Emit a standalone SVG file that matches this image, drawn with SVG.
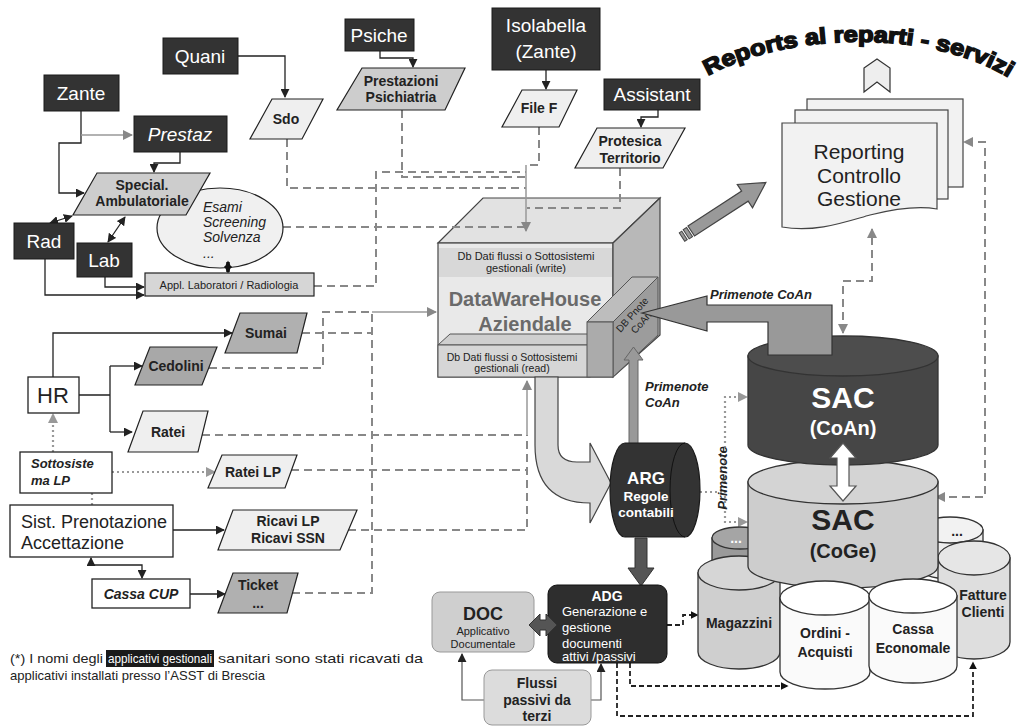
<svg xmlns="http://www.w3.org/2000/svg" width="1024" height="727" viewBox="0 0 1024 727">
<defs>
<marker id="ab" viewBox="0 0 10 10" refX="9" refY="5" markerWidth="9" markerHeight="9" markerUnits="userSpaceOnUse" orient="auto-start-reverse"><path d="M0,0 L10,5 L0,10 Z" fill="#222"/></marker>
<marker id="ag" viewBox="0 0 10 10" refX="9" refY="5" markerWidth="10" markerHeight="10" markerUnits="userSpaceOnUse" orient="auto-start-reverse"><path d="M0,0 L10,5 L0,10 Z" fill="#888"/></marker>
<marker id="ab2" viewBox="0 0 10 10" refX="8" refY="5" markerWidth="8" markerHeight="8" markerUnits="userSpaceOnUse" orient="auto-start-reverse"><path d="M0,0 L10,5 L0,10 Z" fill="#111"/></marker>
<marker id="ag2" viewBox="0 0 10 10" refX="8" refY="5" markerWidth="10" markerHeight="10" markerUnits="userSpaceOnUse" orient="auto-start-reverse"><path d="M0,0 L10,5 L0,10 Z" fill="#999"/></marker>
<path id="arc" d="M708,76 C790,30 940,28 1018,84"/>
</defs>
<style>
.dk{fill:#333;stroke:#1a1a1a;stroke-width:1}
.dt{font-family:"Liberation Sans",Arial,sans-serif;font-size:19px;fill:#fff;text-anchor:middle}
.pg{stroke:#222;stroke-width:1.2}
.pl{fill:#efefef}.pm{fill:#cdcdcd}.pd{fill:#b0b0b0}
.bt{font-family:"Liberation Sans",Arial,sans-serif;font-weight:bold;font-size:14px;fill:#222;text-anchor:middle}
.t{font-family:"Liberation Sans",Arial,sans-serif;fill:#222}
.wb{fill:#fff;stroke:#222;stroke-width:1.3}
.cn{fill:none;stroke:#222;stroke-width:1.3}
.cg{fill:none;stroke:#999;stroke-width:1.5}
.ds{fill:none;stroke:#888;stroke-width:2;stroke-dasharray:8 5}
.dot{fill:none;stroke:#999;stroke-width:2.2;stroke-dasharray:2 3}
.kd{fill:none;stroke:#222;stroke-width:1.8;stroke-dasharray:5 3}
.cy{stroke:#333;stroke-width:1.3}
</style>

<g id="dwh">
<polygon points="438,243 483,198 660,198 613,243" fill="#e2e2e2" stroke="#444" stroke-width="1.2"/>
<rect x="438" y="243" width="175" height="134" fill="#e9e9e9" stroke="#444" stroke-width="1.2"/>
<polygon points="613,243 660,198 660,335 613,377" fill="#b8b8b8" stroke="#444" stroke-width="1.2"/>
<rect x="439" y="248" width="173" height="29" fill="#d8d8d8"/>
<text class="t" x="526" y="260" font-size="11" text-anchor="middle">Db Dati flussi o Sottosistemi</text>
<text class="t" x="526" y="272" font-size="11" text-anchor="middle">gestionali  (write)</text>
<text x="525" y="306" font-family="Liberation Sans,Arial,sans-serif" font-weight="bold" font-size="20" fill="#6a6a6a" text-anchor="middle">DataWareHouse</text>
<text x="525" y="331" font-family="Liberation Sans,Arial,sans-serif" font-weight="bold" font-size="20" fill="#6a6a6a" text-anchor="middle">Aziendale</text>
<polygon points="438,345 450,334 600,334 590,345" fill="#cfcfcf" stroke="#555" stroke-width="1"/>
<rect x="438" y="345" width="152" height="32" fill="#d6d6d6" stroke="#555" stroke-width="1"/>
<text class="t" x="512" y="361" font-size="10.5" text-anchor="middle">Db Dati flussi o Sottosistemi</text>
<text class="t" x="512" y="372" font-size="10.5" text-anchor="middle">gestionali (read)</text>
</g>
<g id="dbpnote">
<polygon points="587,322 632,277 658,277 613,322" fill="#bdbdbd" stroke="#555"/>
<polygon points="613,322 658,277 658,335 613,377" fill="#9c9c9c" stroke="#555"/>
<rect x="587" y="322" width="26" height="55" fill="#ababab" stroke="#555"/>
<g transform="translate(637,319) rotate(-48)"><text class="t" x="0" y="-3" font-size="10" fill="#555" text-anchor="middle">DB Pnote</text><text class="t" x="0" y="9" font-size="10" fill="#555" text-anchor="middle">CoAn</text></g>
</g>

<g id="connectors">
<path class="cn" d="M238,56 H285 V97" marker-end="url(#ab)"/>
<path class="cn" d="M81,111 V143 H59 V193 H84" marker-end="url(#ab)"/>
<path class="cg" d="M81,135 H132" marker-end="url(#ag)"/>
<path class="cn" d="M180,152 V163 H154 V172" marker-end="url(#ab)"/>
<path class="cn" d="M50,223 L72,216" marker-start="url(#ab)" marker-end="url(#ab)"/>
<path class="cn" d="M108,242 L125,217" marker-start="url(#ab)" marker-end="url(#ab)"/>
<path class="cn" d="M45,259 V295 H144" marker-end="url(#ab)"/>
<path class="cn" d="M105,277 V287 H144" marker-end="url(#ab)"/>
<path class="cn" d="M380,51 V58 H413 V67" marker-end="url(#ab)"/>
<path class="cn" d="M546,70 V89" marker-end="url(#ab)"/>
<path class="cn" d="M658,110 V117 H641 V127" marker-end="url(#ab)"/>
<path class="cn" d="M53,377 V333 H232" marker-end="url(#ab)"/>
<path class="cn" d="M79,395 H110 M110,366 V432"/>
<path class="cn" d="M110,366 H142" marker-end="url(#ab)"/>
<path class="cn" d="M110,432 H132" marker-end="url(#ab)"/>
<path class="cn" d="M173,530 H224" marker-end="url(#ab)"/>
<path class="cn" d="M91,558 V565 H142 V578" marker-start="url(#ab)" marker-end="url(#ab)"/>
<path class="cn" d="M190,594 H225" marker-end="url(#ab)"/>
<path class="dot" d="M53,452 V415" marker-end="url(#ag2)"/>
<path class="dot" d="M92,493 V505"/>
<path class="dot" d="M112,472 H214" marker-end="url(#ag2)"/>
<path class="ds" d="M287,139 V188 H526"/>
<path class="ds" d="M402,110 V177 H526"/>
<path class="ds" d="M539,127 V165 H526"/>
<path class="ds" d="M314,286 H376 V172 H526"/>
<path class="ds" d="M283,227 H526"/>
<path class="ds" d="M620,168 V208 H527"/>
<path class="cg" d="M526,165 V231" marker-end="url(#ag)"/>
<path class="ds" d="M302,333 H372"/>
<path class="ds" d="M209,368 H323 V312 H372"/>
<path class="ds" d="M292,593 H372 V312"/>
<path class="ds" d="M348,530 H527 V435"/>
<path class="ds" d="M202,435 H527"/>
<path class="ds" d="M291,470 H527"/>
<path class="cg" d="M527,435 V381" marker-end="url(#ag)"/>
<path class="cg" d="M372,312 H436" marker-end="url(#ag)"/>
<path class="ds" d="M843,333 V281 H872 V229" marker-start="url(#ag)" marker-end="url(#ag)"/>
<path class="ds" d="M936,497 H985 V142 H964" marker-start="url(#ag)" marker-end="url(#ag)"/>
<path class="dot" d="M700,492 H725"/>
<path class="dot" d="M746,397 H725 V522 H746" marker-start="url(#ag2)" marker-end="url(#ag2)"/>
<path class="kd" d="M667,625 H683 V615 H697" marker-end="url(#ab2)"/>
<path class="kd" d="M630,663 V686 H787" marker-end="url(#ab2)"/>
<path class="kd" d="M617,663 V716 H973 V663" marker-end="url(#ab2)"/>
<path fill="none" stroke="#555" stroke-width="1.2" d="M484,700 H462 V654" marker-end="url(#ab)"/>
<path fill="none" stroke="#555" stroke-width="1.2" d="M591,700 H601 V664" marker-end="url(#ab)"/>
</g>

<g id="quani"><rect class="dk" x="163" y="38" width="75" height="36"/><text class="dt" x="200" y="63">Quani</text></g>
<g id="zante"><rect class="dk" x="44" y="75" width="75" height="36"/><text class="dt" x="81" y="100">Zante</text></g>
<g id="prestaz"><rect class="dk" x="134" y="116" width="93" height="36"/><text class="dt" x="180" y="141" font-style="italic" font-size="20">Prestaz</text></g>
<g id="rad"><rect class="dk" x="14" y="223" width="60" height="36"/><text class="dt" x="44" y="248" font-size="20">Rad</text></g>
<g id="lab"><rect class="dk" x="77" y="243" width="55" height="34"/><text class="dt" x="104" y="267" font-size="20">Lab</text></g>
<g id="psiche"><rect class="dk" x="345" y="19" width="69" height="32"/><text class="dt" x="379" y="42">Psiche</text></g>
<g id="isolabella"><rect class="dk" x="492" y="8" width="108" height="62"/><text class="dt" x="546" y="32" font-size="20">Isolabella</text><text class="dt" x="546" y="58" font-size="20">(Zante)</text></g>
<g id="assistant"><rect class="dk" x="604" y="79" width="96" height="31"/><text class="dt" x="652" y="101">Assistant</text></g>

<g id="esami"><ellipse cx="220" cy="228" rx="63" ry="40" fill="#f0f0f0" stroke="#222" stroke-width="1.2"/>
<text class="t" x="203" y="212" font-size="14" font-style="italic">Esami</text>
<text class="t" x="203" y="227" font-size="14" font-style="italic">Screening</text>
<text class="t" x="203" y="242" font-size="14" font-style="italic">Solvenza</text>
<text class="t" x="203" y="258" font-size="14" font-style="italic">...</text></g>
<path d="M228,262 V272" stroke="#111" stroke-width="3.5" marker-start="url(#ab2)" marker-end="url(#ab2)"/>
<g id="appl"><rect x="145" y="273" width="169" height="23" fill="#d6d6d6" stroke="#222" stroke-width="1.2"/><text class="t" x="229" y="289" font-size="11" text-anchor="middle">Appl. Laboratori / Radiologia</text></g>

<g id="sdo"><polygon class="pg pl" points="272,99 323,99 302,139 250,139"/><text class="bt" x="286" y="124">Sdo</text></g>
<g id="special"><polygon class="pg pm" points="97,173 210,173 186,215 73,215"/><text class="bt" x="142" y="190" font-size="13">Special.</text><text class="bt" x="142" y="206" font-size="13">Ambulatoriale</text></g>
<g id="prestazioni"><polygon class="pg pm" points="362,68 465,68 445,110 337,110"/><text class="bt" x="401" y="86" font-size="13.5">Prestazioni</text><text class="bt" x="401" y="102" font-size="13.5">Psichiatria</text></g>
<g id="filef"><polygon class="pg pl" points="522,90 577,90 559,127 502,127"/><text class="bt" x="539" y="113">File F</text></g>
<g id="protesica"><polygon class="pg pl" points="597,128 685,128 663,168 575,168"/><text class="bt" x="630" y="146">Protesica</text><text class="bt" x="630" y="163">Territorio</text></g>

<g id="hr"><rect class="wb" x="28" y="377" width="51" height="36"/><text class="t" x="53" y="403" font-size="22" text-anchor="middle">HR</text></g>
<g id="sumai"><polygon class="pg pd" points="240,313 307,313 297,353 225,353"/><text class="bt" x="266" y="338" font-size="15">Sumai</text></g>
<g id="cedolini"><polygon class="pg" fill="#a8a8a8" points="150,347 217,347 202,385 135,385"/><text class="bt" x="176" y="371" font-size="13">Cedolini</text></g>
<g id="ratei"><polygon class="pg pl" points="143,411 208,411 198,452 128,452"/><text class="bt" x="168" y="437" font-size="15">Ratei</text></g>
<g id="sottosistema"><rect class="wb" x="20" y="452" width="92" height="41"/><text class="t" x="31" y="468" font-size="13" font-weight="bold" font-style="italic">Sottosiste</text><text class="t" x="31" y="485" font-size="13" font-weight="bold" font-style="italic">ma LP</text></g>
<g id="rateilp"><polygon class="pg pl" points="222,455 297,455 285,488 208,488"/><text class="bt" x="253" y="477" font-size="15">Ratei LP</text></g>
<g id="sist"><rect class="wb" x="10" y="505" width="163" height="52"/><text class="t" x="21" y="528" font-size="18">Sist. Prenotazione</text><text class="t" x="21" y="549" font-size="18">Accettazione</text></g>
<g id="ricavi"><polygon class="pg pl" points="233,510 357,510 340,550 218,550"/><text class="bt" x="288" y="526">Ricavi LP</text><text class="bt" x="288" y="543">Ricavi SSN</text></g>
<g id="cassacup"><rect class="wb" x="92" y="579" width="98" height="29"/><text class="t" x="141" y="599" font-size="14" font-weight="bold" font-style="italic" text-anchor="middle">Cassa CUP</text></g>
<g id="ticket"><polygon class="pg pd" points="233,573 298,573 287,613 218,613"/><text class="bt" x="258" y="590">Ticket</text><text class="bt" x="258" y="608">...</text></g>

<g id="uarrow"><path d="M535,377 V445 Q535,503 590,503 V523 L611,483 L590,443 V462 L577,462 Q558,462 558,445 V377 Z" fill="#d9d9d9" stroke="#444" stroke-width="1.2"/></g>
<g id="primenote-bar"><polygon points="629,445 638,445 638,360 643,360 633.5,347 624,360 629,360" fill="#999" stroke="#666"/>
<text class="t" x="645" y="391" font-size="13" font-weight="bold" font-style="italic">Primenote</text>
<text class="t" x="645" y="407" font-size="13" font-weight="bold" font-style="italic">CoAn</text></g>
<g id="arg"><path d="M625,443 H685 A15,47 0 0 1 685,537 H625 A15,47 0 0 1 625,443 Z" fill="#333" stroke="#1a1a1a" stroke-width="1.2"/>
<path d="M685,443 A15,47 0 0 0 685,537" fill="none" stroke="#111" stroke-width="1"/>
<text x="646" y="484" font-family="Liberation Sans,Arial,sans-serif" font-weight="bold" font-size="17" fill="#fff" text-anchor="middle">ARG</text>
<text x="646" y="501" font-family="Liberation Sans,Arial,sans-serif" font-weight="bold" font-size="13.5" fill="#fff" text-anchor="middle">Regole</text>
<text x="646" y="517" font-family="Liberation Sans,Arial,sans-serif" font-weight="bold" font-size="13.5" fill="#fff" text-anchor="middle">contabili</text></g>
<polygon points="635,538 647,538 647,568 654,568 641,586 628,568 635,568" fill="#555" stroke="#333"/>

<g id="adg"><rect x="548" y="585" width="119" height="78" rx="9" fill="#2e2e2e" stroke="#111"/>
<text x="607" y="601" font-family="Liberation Sans,Arial,sans-serif" font-weight="bold" font-size="14" fill="#fff" text-anchor="middle">ADG</text>
<text x="562" y="616" font-family="Liberation Sans,Arial,sans-serif" font-size="13" fill="#fff">Generazione e</text>
<text x="562" y="632" font-family="Liberation Sans,Arial,sans-serif" font-size="13" fill="#fff">gestione</text>
<text x="562" y="648" font-family="Liberation Sans,Arial,sans-serif" font-size="13" fill="#fff">documenti</text>
<text x="562" y="661" font-family="Liberation Sans,Arial,sans-serif" font-size="13" fill="#fff">attivi /passivi</text></g>
<g id="doc"><rect x="432" y="592" width="102" height="60" rx="8" fill="#cfcfcf" stroke="#999"/>
<text class="t" x="483" y="620" font-size="18" font-weight="bold" text-anchor="middle">DOC</text>
<text class="t" x="483" y="635" font-size="11" fill="#444" text-anchor="middle">Applicativo</text>
<text class="t" x="483" y="648" font-size="11" fill="#444" text-anchor="middle">Documentale</text></g>
<polygon points="529,625 540,614 540,620 546,620 546,614 557,625 546,636 546,630 540,630 540,636" fill="#555" stroke="#333"/>
<g id="flussi"><rect x="484" y="670" width="107" height="55" rx="8" fill="#dcdcdc" stroke="#999"/>
<text class="bt" x="537" y="688">Flussi</text><text class="bt" x="537" y="705">passivi da</text><text class="bt" x="537" y="721">terzi</text></g>

<g id="dots-left"><path class="cy" d="M712,538 V570 A28,11 0 0 0 768,570 V538 Z" fill="#9a9a9a"/><ellipse class="cy" cx="740" cy="538" rx="28" ry="11" fill="#a5a5a5"/><text x="736" y="543" font-family="Liberation Sans,Arial,sans-serif" font-weight="bold" font-size="14" fill="#fff" text-anchor="middle">...</text></g>
<g id="dots-right"><path class="cy" d="M917,530 V566 A33,13 0 0 0 983,566 V530 Z" fill="#ededed"/><ellipse class="cy" cx="950" cy="530" rx="33" ry="13" fill="#f2f2f2"/><text x="957" y="536" font-family="Liberation Sans,Arial,sans-serif" font-weight="bold" font-size="14" fill="#222" text-anchor="middle">...</text></g>
<g id="fatture"><path class="cy" d="M938,558 V642 A36,17 0 0 0 1010,642 V558 Z" fill="#dedede"/><ellipse class="cy" cx="974" cy="558" rx="36" ry="17" fill="#e6e6e6"/>
<text class="bt" x="983" y="600" font-size="12.5">Fatture</text><text class="bt" x="983" y="617" font-size="12.5">Clienti</text></g>
<g id="magazzini"><path class="cy" d="M698,573 V652 A41,17 0 0 0 780,652 V573 Z" fill="#cfcfcf"/><ellipse class="cy" cx="739" cy="573" rx="41" ry="17" fill="#d6d6d6"/>
<text class="bt" x="739" y="628">Magazzini</text></g>
<g id="sac-coge"><path class="cy" d="M748,482 V566 A95,22 0 0 0 938,566 V482 Z" fill="#cdcdcd"/><ellipse class="cy" cx="843" cy="482" rx="95" ry="22" fill="#d4d4d4"/>
<text x="843" y="530" font-family="Liberation Sans,Arial,sans-serif" font-weight="bold" font-size="30" fill="#222" text-anchor="middle">SAC</text>
<text x="843" y="558" font-family="Liberation Sans,Arial,sans-serif" font-weight="bold" font-size="20" fill="#222" text-anchor="middle">(CoGe)</text></g>
<g id="sac-coan"><path class="cy" d="M748,356 V445 A95,20 0 0 0 938,445 V356 Z" fill="#464646"/><ellipse class="cy" cx="843" cy="356" rx="95" ry="20" fill="#4d4d4d"/>
<text x="843" y="408" font-family="Liberation Sans,Arial,sans-serif" font-weight="bold" font-size="30" fill="#fff" text-anchor="middle">SAC</text>
<text x="843" y="435" font-family="Liberation Sans,Arial,sans-serif" font-weight="bold" font-size="20" fill="#fff" text-anchor="middle">(CoAn)</text></g>
<polygon points="843,443 856,458 849,458 849,486 856,486 843,501 830,486 837,486 837,458 830,458" fill="#fff" stroke="#555" stroke-width="1.2"/>
<g id="ordini"><path class="cy" d="M780,598 V672 A45,17 0 0 0 870,672 V598 Z" fill="#fafafa"/><ellipse class="cy" cx="825" cy="598" rx="45" ry="17" fill="#fff"/>
<text class="bt" x="825" y="638">Ordini -</text><text class="bt" x="825" y="657">Acquisti</text></g>
<g id="cassa"><path class="cy" d="M869,596 V666 A44,17 0 0 0 957,666 V596 Z" fill="#fafafa"/><ellipse class="cy" cx="913" cy="596" rx="44" ry="17" fill="#fff"/>
<text class="bt" x="913" y="634">Cassa</text><text class="bt" x="913" y="653">Economale</text></g>

<g id="primenote-arrow"><polygon points="642,313 707,296 707,305 832,305 832,355 768,355 768,322 707,322 707,331" fill="#999" stroke="#333" stroke-width="1.2"/>
<text class="t" x="710" y="299" font-size="13" font-weight="bold" font-style="italic">Primenote CoAn</text></g>
<text class="t" transform="translate(727,478) rotate(-90)" font-size="13" font-weight="bold" font-style="italic" text-anchor="middle" fill="#333">Primenote</text>

<g id="reporting">
<rect x="807" y="99" width="156" height="88" fill="#f2f2f2" stroke="#444" stroke-width="1.2"/>
<rect x="795" y="110" width="153" height="89" fill="#f2f2f2" stroke="#444" stroke-width="1.2"/>
<path d="M782,123 H937 V209 C915,205 890,210 870,215 C845,222 815,233 782,227 Z" fill="#f2f2f2" stroke="#444" stroke-width="1.2"/>
<text class="t" x="859" y="159" font-size="21" text-anchor="middle">Reporting</text>
<text class="t" x="859" y="183" font-size="21" text-anchor="middle">Controllo</text>
<text class="t" x="859" y="206" font-size="21" text-anchor="middle">Gestione</text>
</g>
<polygon points="864,68 877,59 890,68 890,92 877,82 864,92" fill="#eee" stroke="#333" stroke-width="1.2"/>
<g transform="translate(682,237) rotate(-33)"><rect x="0" y="-5" width="3" height="10" fill="#999" stroke="#444"/><rect x="5" y="-5.5" width="4" height="11" fill="#999" stroke="#444"/><polygon points="11,-6 75,-6 75,-14 100,0 75,14 75,6 11,6" fill="#999" stroke="#444" stroke-width="1.2"/></g>
<text font-family="Liberation Sans,Arial,sans-serif" font-weight="bold" font-size="22" fill="#111" stroke="#111" stroke-width="1.5"><textPath href="#arc" textLength="312" lengthAdjust="spacingAndGlyphs">Reports al reparti - servizi</textPath></text>

<rect x="106" y="650" width="108" height="17" fill="#1a1a1a"/>
<text class="t" x="10" y="663" font-size="13" textLength="93" lengthAdjust="spacingAndGlyphs">(*) I nomi degli</text>
<text x="108" y="663" font-family="Liberation Sans,Arial,sans-serif" font-size="13" fill="#fff" textLength="104" lengthAdjust="spacingAndGlyphs">applicativi gestionali</text>
<text class="t" x="218" y="663" font-size="13" textLength="205" lengthAdjust="spacingAndGlyphs">sanitari sono stati ricavati da</text>
<text class="t" x="10" y="680" font-size="13" textLength="255" lengthAdjust="spacingAndGlyphs">applicativi installati presso l’ASST di Brescia</text>
</svg>
